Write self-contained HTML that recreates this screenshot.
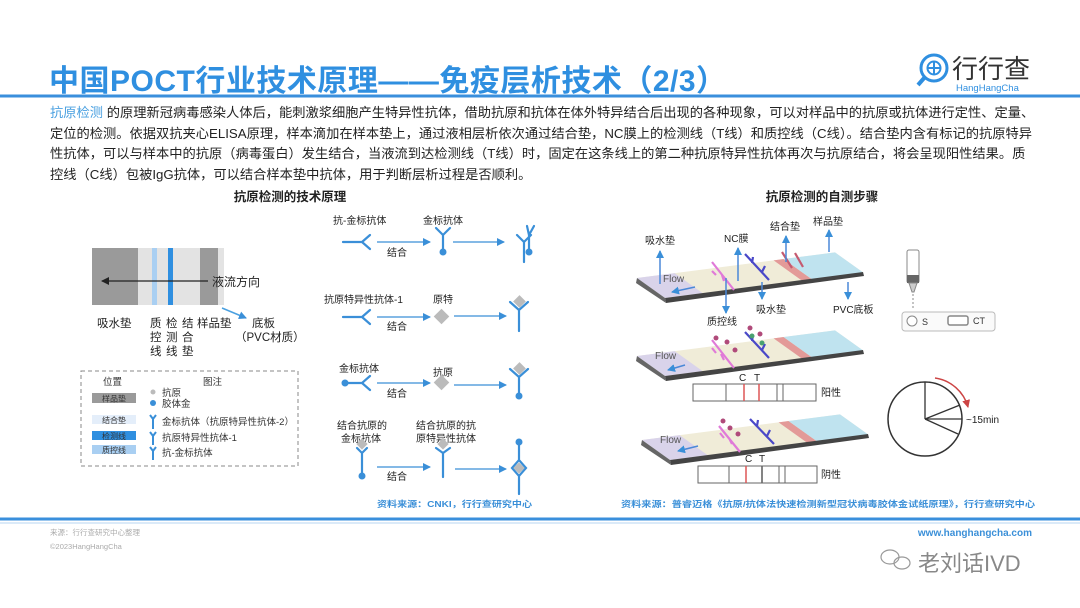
<!DOCTYPE html>
<html><head><meta charset="utf-8"><style>
html,body{margin:0;padding:0;background:#fff;}
body{width:1080px;height:608px;overflow:hidden;position:relative;font-family:"Liberation Sans","Noto Sans CJK SC",sans-serif;}
.title{position:absolute;left:49px;top:56px;font-size:30px;font-weight:bold;color:#2f8fe0;letter-spacing:0.5px;white-space:nowrap;font-family:"Liberation Sans","Noto Sans CJK SC",sans-serif;}
.para{position:absolute;left:50px;top:103px;width:1030px;font-size:13.25px;line-height:20.5px;color:#222;white-space:nowrap;}
.para .hl{color:#4aa0e0;}
svg{position:absolute;left:0;top:0;}
</style></head><body>
<div class="title">中国POCT行业技术原理——免疫层析技术（2/3）</div>
<div class="para"><span class="hl">抗原检测</span> 的原理新冠病毒感染人体后，能刺激浆细胞产生特异性抗体，借助抗原和抗体在体外特异结合后出现的各种现象，可以对样品中的抗原或抗体进行定性、定量、<br>定位的检测。依据双抗夹心ELISA原理，样本滴加在样本垫上，通过液相层析依次通过结合垫，NC膜上的检测线（T线）和质控线（C线）。结合垫内含有标记的抗原特异<br>性抗体，可以与样本中的抗原（病毒蛋白）发生结合，当液流到达检测线（T线）时，固定在这条线上的第二种抗原特异性抗体再次与抗原结合，将会呈现阳性结果。质<br>控线（C线）包被IgG抗体，可以结合样本垫中抗体，用于判断层析过程是否顺利。</div>
<svg width="1080" height="608" viewBox="0 0 1080 608" font-family="Liberation Sans, Noto Sans CJK SC, sans-serif">
<defs>
<marker id="ah" markerWidth="8" markerHeight="8" refX="7" refY="4" orient="auto" markerUnits="userSpaceOnUse"><path d="M0,0 L8,4 L0,8 z" fill="#3a8fd8"/></marker>
<marker id="ak" markerWidth="8" markerHeight="8" refX="7" refY="4" orient="auto" markerUnits="userSpaceOnUse"><path d="M0,0 L8,4 L0,8 z" fill="#222"/></marker>
<marker id="ar" markerWidth="8" markerHeight="8" refX="7" refY="4" orient="auto" markerUnits="userSpaceOnUse"><path d="M0,0 L8,4 L0,8 z" fill="#c44"/></marker>
</defs>
<g transform="translate(934,68)" stroke="#2f8fe0" fill="none" stroke-width="3">
<circle cx="0" cy="0" r="13"/><circle cx="0" cy="0" r="6.5" stroke-width="2"/><line x1="-6.5" y1="0" x2="6.5" y2="0" stroke-width="2"/><line x1="0" y1="-6.5" x2="0" y2="6.5" stroke-width="2"/><line x1="-9" y1="9" x2="-16" y2="17" stroke-width="4"/>
</g>
<text x="952" y="78" font-size="26" fill="#333">行行查</text>
<text x="956" y="91" font-size="9.5" fill="#2f8fe0">HangHangCha</text>
<line x1="0" y1="96" x2="1080" y2="96" stroke="#3a8fdc" stroke-width="3"/>

<text x="290" y="201" font-size="12.5" font-weight="bold" text-anchor="middle" fill="#222">抗原检测的技术原理</text>
<text x="822" y="201" font-size="12.5" font-weight="bold" text-anchor="middle" fill="#222">抗原检测的自测步骤</text>

<rect x="92" y="248" width="132" height="57" fill="#e3e3e3"/>
<rect x="92" y="248" width="46" height="57" fill="#9a9a9a"/>
<rect x="152" y="248" width="5" height="57" fill="#a9cff2"/>
<rect x="168" y="248" width="5" height="57" fill="#2f8fe0"/>
<rect x="200" y="248" width="18" height="57" fill="#9a9a9a"/>
<line x1="208" y1="281" x2="102" y2="281" stroke="#222" stroke-width="1.3" marker-end="url(#ak)"/>
<text x="212" y="286" font-size="12" fill="#222">液流方向</text>
<line x1="222" y1="308" x2="246" y2="318" stroke="#4aa0e0" stroke-width="1.5" marker-end="url(#ah)"/>
<g font-size="11.5" fill="#222">
<text x="97" y="327">吸水垫</text>
<text x="150" y="327">质</text><text x="150" y="341">控</text><text x="150" y="355">线</text>
<text x="166" y="327">检</text><text x="166" y="341">测</text><text x="166" y="355">线</text>
<text x="182" y="327">结</text><text x="182" y="341">合</text><text x="182" y="355">垫</text>
<text x="197" y="327">样品垫</text>
<text x="252" y="327">底板</text>
<text x="235" y="341">（PVC材质）</text>
</g>
<rect x="81" y="371" width="217" height="95" fill="none" stroke="#888" stroke-dasharray="4,3"/>
<g font-size="9.5" fill="#333">
<text x="103" y="385">位置</text><text x="203" y="385">图注</text>
<rect x="92" y="393" width="44" height="10" fill="#9a9a9a"/><text x="114" y="401.5" text-anchor="middle" font-size="8" fill="#333">样品垫</text>
<rect x="92" y="415" width="44" height="9" fill="#e4eefa"/><text x="114" y="423" text-anchor="middle" font-size="8">结合垫</text>
<rect x="92" y="431" width="44" height="9" fill="#2f8fe0"/><text x="114" y="439" text-anchor="middle" font-size="8">检测线</text>
<rect x="92" y="445" width="44" height="9" fill="#a9cff2"/><text x="114" y="453" text-anchor="middle" font-size="8">质控线</text>
<circle cx="153" cy="392" r="2.5" fill="#bbb"/><text x="162" y="396">抗原</text>
<circle cx="153" cy="403" r="3" fill="#3a8fd8"/><text x="162" y="407">胶体金</text>
<text x="162" y="425">金标抗体（抗原特异性抗体-2）</text>
<text x="162" y="441">抗原特异性抗体-1</text>
<text x="162" y="456">抗-金标抗体</text>
</g>
<g stroke="#3a8fd8" stroke-width="2" fill="none">
<path d="M150,415 L153,419 L156,415 M153,419 V429"/>
<path d="M150,432 L153,436 L156,432 M153,436 V445"/>
<path d="M150,447 L153,451 L156,447 M153,451 V460"/>
</g>

<g font-size="10" fill="#222">
<text x="333" y="224">抗-金标抗体</text><text x="423" y="224">金标抗体</text>
<text x="324" y="303">抗原特异性抗体-1</text><text x="433" y="303">原特</text>
<text x="339" y="372">金标抗体</text><text x="433" y="376">抗原</text>
<text x="337" y="429">结合抗原的</text><text x="341" y="442">金标抗体</text>
<text x="416" y="429">结合抗原的抗</text><text x="416" y="442">原特异性抗体</text>
<text x="387" y="256">结合</text><text x="387" y="330">结合</text><text x="387" y="397">结合</text><text x="387" y="480">结合</text>
</g>
<g stroke="#3a8fd8" stroke-width="2.2" fill="none" stroke-linecap="round">
<path d="M343,242 H362 M362,242 L370,235 M362,242 L370,249"/>
<path d="M436,228 L443,235 L450,228 M443,235 V250"/>
<path d="M517,235 L524,242 L531,235 M524,242 V262"/>
<path d="M527,226 L529,235 L534,226 M529,235 V250"/>
<path d="M343,317 H362 M362,317 L370,310 M362,317 L370,324"/>
<path d="M510,302 L519,310 L528,302 M519,310 V331"/>
<path d="M348,383 H362 M362,383 L370,376 M362,383 L370,390"/>
<path d="M510,369 L519,377 L528,369 M519,377 V393"/>
<path d="M357,448 L362,453 L367,448 M362,453 V474"/>
<path d="M436,448 L443,453 L450,448 M443,453 V477"/>
<path d="M512,468 L519,460 L526,468 L519,476 Z M519,460 V443 M519,476 V494"/>
</g>
<g fill="#3a8fd8">
<circle cx="443" cy="252" r="3.5"/><circle cx="529" cy="252" r="3.5"/>
<circle cx="345" cy="383" r="3.5"/><circle cx="519" cy="396" r="3.5"/>
<circle cx="362" cy="476" r="3.5"/><circle cx="519" cy="442" r="3.5"/>
</g>
<g fill="#bbb">
<rect x="436" y="311" width="11" height="11" transform="rotate(45 441.5 316.5)"/>
<rect x="515" y="297" width="9" height="9" transform="rotate(45 519.5 301.5)"/>
<rect x="436" y="377" width="11" height="11" transform="rotate(45 441.5 382.5)"/>
<rect x="515" y="364" width="9" height="9" transform="rotate(45 519.5 368.5)"/>
<rect x="358" y="440" width="8" height="8" transform="rotate(45 362 444)"/>
<rect x="439" y="440" width="8" height="8" transform="rotate(45 443 444)"/>
<rect x="515" y="464" width="8" height="8" transform="rotate(45 519 468)"/>
</g>
<g stroke="#3a8fd8" stroke-width="1.3" marker-end="url(#ah)">
<line x1="377" y1="242" x2="430" y2="242"/><line x1="453" y1="242" x2="504" y2="242"/>
<line x1="377" y1="317" x2="430" y2="317"/><line x1="454" y1="316" x2="506" y2="316"/>
<line x1="377" y1="383" x2="430" y2="383"/><line x1="454" y1="385" x2="506" y2="385"/>
<line x1="377" y1="467" x2="430" y2="467"/><line x1="455" y1="469" x2="506" y2="469"/>
</g>

<g id="s1">
<g transform="matrix(0.99,-0.128,1.4,1.0,637,278)">
<rect x="0" y="0" width="200" height="20" fill="#f0ecd8"/>
<rect x="0" y="0" width="38" height="20" fill="#d9d3ea"/>
<rect x="138" y="0" width="10" height="20" fill="#e39a98"/>
<rect x="148" y="0" width="52" height="20" fill="#bfe3ef"/>
</g>
<path d="M665,298 L863,272 L864,276 L666,303 Z" fill="#444"/>
<path d="M637,278 L665,298 L666,303 L636,283 Z" fill="#666"/>
</g>
<use href="#s1" transform="translate(0,78)"/>
<use href="#s1" transform="translate(5,162)"/>
<g stroke-width="2.2" fill="none">
<path d="M712,262 L734,290 M716,275 l-4,-4 M724,281 l-2,-6" stroke="#e07ad8"/>
<path d="M745,254 L769,280 M752,263 l1,-6 M762,272 l3,-6" stroke="#4a48c8"/>
<path d="M795,253 L803,267 M782,252 L792,268" stroke="#c55a70"/>
<path d="M712,340 L734,368 M716,353 l-4,-5 M724,360 l-3,-6" stroke="#e07ad8"/>
<path d="M745,332 L769,358 M752,341 l1,-6 M762,350 l3,-6" stroke="#4a48c8"/>
<path d="M719,426 L740,452 M724,438 l-4,-5 M732,444 l-3,-6" stroke="#e07ad8"/>
<path d="M750,419 L774,444 M757,426 l1,-6 M767,436 l3,-6" stroke="#4a48c8"/>
</g>
<g fill="#b04a7a"><circle cx="716" cy="338" r="2.5"/><circle cx="727" cy="342" r="2.5"/><circle cx="735" cy="350" r="2.5"/><circle cx="750" cy="328" r="2.5"/><circle cx="760" cy="334" r="2.5"/><circle cx="723" cy="421" r="2.5"/><circle cx="730" cy="428" r="2.5"/><circle cx="738" cy="434" r="2.5"/></g>
<g fill="#4aa070"><circle cx="752" cy="336" r="2.5"/><circle cx="762" cy="343" r="2.5"/></g>
<g fill="#555" font-size="10"><text x="663" y="282">Flow</text><text x="655" y="359">Flow</text><text x="660" y="443">Flow</text></g>
<g stroke="#4a88d8" stroke-width="1.5" marker-end="url(#ah)">
<line x1="695" y1="287" x2="672" y2="292"/><line x1="685" y1="365" x2="668" y2="370"/><line x1="698" y1="446" x2="678" y2="451"/>
<line x1="660" y1="284" x2="660" y2="251"/><line x1="738" y1="281" x2="738" y2="248"/>
<line x1="786" y1="262" x2="786" y2="236"/><line x1="829" y1="252" x2="829" y2="230"/>
<line x1="726" y1="278" x2="726" y2="313"/><line x1="762" y1="282" x2="762" y2="299"/><line x1="848" y1="282" x2="848" y2="299"/>
</g>
<g font-size="10" fill="#222">
<text x="645" y="244">吸水垫</text><text x="724" y="242">NC膜</text><text x="770" y="230">结合垫</text><text x="813" y="225">样品垫</text>
<text x="756" y="313">吸水垫</text><text x="833" y="313">PVC底板</text><text x="707" y="325">质控线</text>
</g>
<g fill="#fff" stroke="#666" stroke-width="1">
<rect x="693" y="384" width="123" height="17"/><rect x="698" y="466" width="119" height="17"/>
</g>
<g stroke="#666" stroke-width="1">
<line x1="726" y1="384" x2="726" y2="401"/><line x1="777" y1="384" x2="777" y2="401"/><line x1="783" y1="384" x2="783" y2="401"/>
<line x1="729" y1="466" x2="729" y2="483"/><line x1="762" y1="466" x2="762" y2="483" stroke-width="1.6"/><line x1="779" y1="466" x2="779" y2="483"/><line x1="785" y1="466" x2="785" y2="483"/>
</g>
<g stroke="#d55" stroke-width="1.5"><line x1="744" y1="384" x2="744" y2="401"/><line x1="759" y1="384" x2="759" y2="401"/><line x1="746" y1="466" x2="746" y2="483"/></g>
<g font-size="10" fill="#222"><text x="739" y="381">C</text><text x="754" y="381">T</text><text x="821" y="396">阳性</text>
<text x="745" y="462">C</text><text x="759" y="462">T</text><text x="821" y="478">阴性</text></g>
<rect x="907" y="250" width="12" height="33" rx="2" fill="#fff" stroke="#888"/>
<rect x="907" y="275" width="12" height="8" fill="#666"/>
<path d="M909,283 L917,283 L914,292 L912,292 Z" fill="#ccc" stroke="#888"/>
<line x1="913" y1="294" x2="913" y2="308" stroke="#888" stroke-dasharray="2,2"/>
<rect x="902" y="312" width="93" height="19" rx="3" fill="#fafafa" stroke="#bbb"/>
<circle cx="912" cy="321" r="5" fill="#fff" stroke="#888"/>
<rect x="948" y="316" width="20" height="9" rx="2" fill="#fff" stroke="#888" stroke-width="1.5"/>
<text x="922" y="325" font-size="9" fill="#333">S</text><text x="973" y="324" font-size="9" fill="#333">CT</text>
<circle cx="925" cy="419" r="37" fill="#fff" stroke="#333" stroke-width="1.5"/>
<g stroke="#333" stroke-width="1.3"><line x1="925" y1="419" x2="925" y2="382"/><line x1="925" y1="419" x2="960" y2="405"/><line x1="925" y1="419" x2="962" y2="419"/><line x1="925" y1="419" x2="958" y2="434"/></g>
<path d="M935,378 A40,40 0 0 1 968,407" fill="none" stroke="#c44" stroke-width="1.5" marker-end="url(#ar)"/>
<text x="966" y="423" font-size="10" fill="#222">~15min</text>

<text x="377" y="507" font-size="8.5" font-weight="bold" fill="#3a8fd8" textLength="155" lengthAdjust="spacingAndGlyphs">资料来源：CNKI，行行查研究中心</text>
<text x="621" y="507" font-size="8.5" font-weight="bold" fill="#3a8fd8" textLength="414" lengthAdjust="spacingAndGlyphs">资料来源：普睿迈格《抗原/抗体法快速检测新型冠状病毒胶体金试纸原理》，行行查研究中心</text>
<line x1="0" y1="519" x2="1080" y2="519" stroke="#3a8fdc" stroke-width="3"/>
<line x1="0" y1="523" x2="1080" y2="523" stroke="#cfe3f5" stroke-width="1.5"/>
<text x="50" y="535" font-size="7.5" fill="#aaa">来源：行行查研究中心整理</text>
<text x="50" y="549" font-size="7.5" fill="#aaa">©2023HangHangCha</text>
<text x="1032" y="536" font-size="10" font-weight="bold" fill="#3a8fd8" text-anchor="end">www.hanghangcha.com</text>
<g stroke="#999" fill="none" stroke-width="1.2"><ellipse cx="890" cy="557" rx="9" ry="7"/><ellipse cx="902" cy="563" rx="8" ry="6"/></g>
<text x="918" y="571" font-size="22" fill="#888">老刘话IVD</text>
</svg>
</body></html>
